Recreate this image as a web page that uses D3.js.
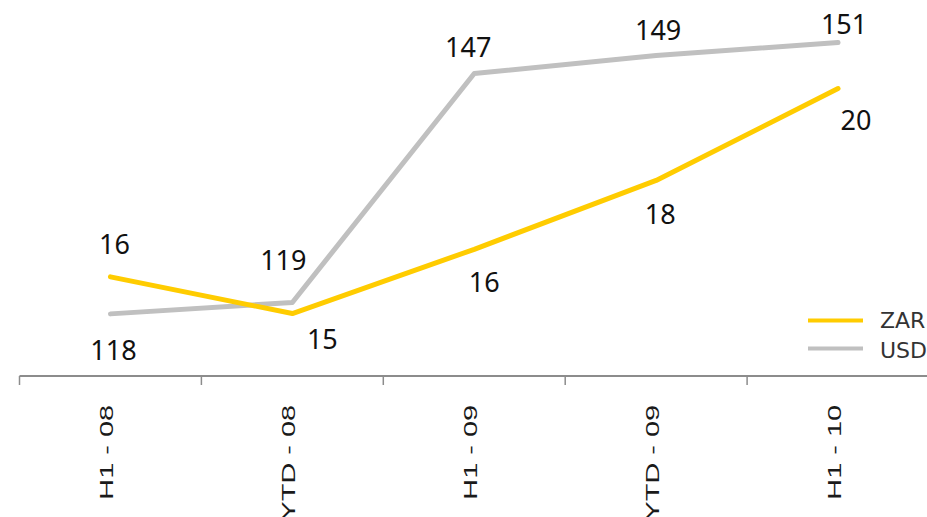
<!DOCTYPE html>
<html>
<head>
<meta charset="utf-8">
<script src="https://cdn.jsdelivr.net/npm/d3@7"></script>
<style>
  html, body { margin: 0; padding: 0; background: #fff; }
  svg { display: block; }
</style>
</head>
<body>
<svg id="chart" width="927" height="517"></svg>
<script>
// Periods on the x axis
const periods = ["H1 - 08", "YTD - 08", "H1 - 09", "YTD - 09", "H1 - 10"];
// Rand series (each line has its own hidden value axis)
const zarValues = [15.8, 15.0, 16.4, 17.9, 19.9];
// Dollar series
const usdValues = [117.8, 119.2, 147.2, 149.4, 151.0];
const seriesNames = ["ZAR", "USD"];

// Label placement relative to each point: [dx, dy] to label centre / baseline
const zarLabelNudge = [[4, -23], [30, 35], [10, 43], [4, 44], [18, 41]];
const usdLabelNudge = [[3, 46], [-9, -32], [-6, -17], [2, -16], [6, -9]];

const colors = { ZAR: "#ffcc00", USD: "#c0c0c0" };

const svg = d3.select("#chart");
const W = 927;
const axisY = 376;

const x = d3.scaleBand().domain(periods).range([19.5, 929]).paddingInner(0).paddingOuter(0);
const cx = d => x(d) + x.bandwidth() / 2;

const yZar = d3.scaleLinear().domain([13.64, 21.83]).range([axisY, 0]);
const yUsd = d3.scaleLinear().domain([110.2, 156.2]).range([axisY, 0]);

// Category axis along the bottom
const xAxis = d3.axisBottom(x).tickSize(0).tickFormat("");
const gx = svg.append("g").attr("transform", `translate(0,${axisY})`).call(xAxis);
gx.select(".domain").attr("stroke", "#8c8c8c").attr("stroke-width", 2)
  .attr("d", `M19.5,0H${W + 5}`);
// separators between categories
gx.selectAll(".sep").data(periods).join("line")
  .attr("class", "sep")
  .attr("x1", d => x(d)).attr("x2", d => x(d))
  .attr("y1", 0).attr("y2", 9)
  .attr("stroke", "#8c8c8c").attr("stroke-width", 1.5);

// rotated, horizontally stretched category labels
svg.append("g").selectAll("text").data(periods).join("text")
  .attr("transform", d => `translate(${cx(d) + 3},405) rotate(-90) scale(1.65,1)`)
  .attr("text-anchor", "end")
  .attr("font-family", "Liberation Sans, Arial, sans-serif")
  .attr("font-size", 17.5)
  .attr("fill", "#1a1a1a")
  .text(d => d);

// lines
const series = [
  { name: "ZAR", values: zarValues, y: yZar, nudge: zarLabelNudge },
  { name: "USD", values: usdValues, y: yUsd, nudge: usdLabelNudge }
];

// draw USD first so ZAR sits on top where they cross
[series[1], series[0]].forEach(s => {
  const line = d3.line()
    .x((d, i) => cx(periods[i]))
    .y(d => s.y(d));
  svg.append("path")
    .datum(s.values)
    .attr("d", line)
    .attr("fill", "none")
    .attr("stroke", colors[s.name])
    .attr("stroke-width", 5)
    .attr("stroke-linejoin", "round")
    .attr("stroke-linecap", "round");
});

// value labels
const fmt = d3.format(".0f");
series.forEach(s => {
  svg.append("g").selectAll("text").data(s.values).join("text")
    .attr("x", (d, i) => cx(periods[i]) + s.nudge[i][0])
    .attr("y", (d, i) => s.y(d) + s.nudge[i][1])
    .attr("text-anchor", "middle")
    .attr("font-family", "Noto Sans, Open Sans, sans-serif")
    .attr("font-size", 27)
    .attr("fill", "#111")
    .text(d => fmt(d));
});

// legend
const legend = svg.append("g").attr("transform", "translate(808,320.5)");
seriesNames.forEach((n, i) => {
  const g = legend.append("g").attr("transform", `translate(0,${i * 28})`);
  g.append("line").attr("x1", 0).attr("x2", 55).attr("y1", 0).attr("y2", 0)
    .attr("stroke", colors[n]).attr("stroke-width", 4);
  g.append("text").attr("x", 72).attr("y", 7.5 + i * 1.5)
    .attr("font-family", "DejaVu Sans, Verdana, sans-serif")
    .attr("font-size", 22)
    .attr("fill", "#333")
    .text(n);
});
</script>
</body>
</html>
